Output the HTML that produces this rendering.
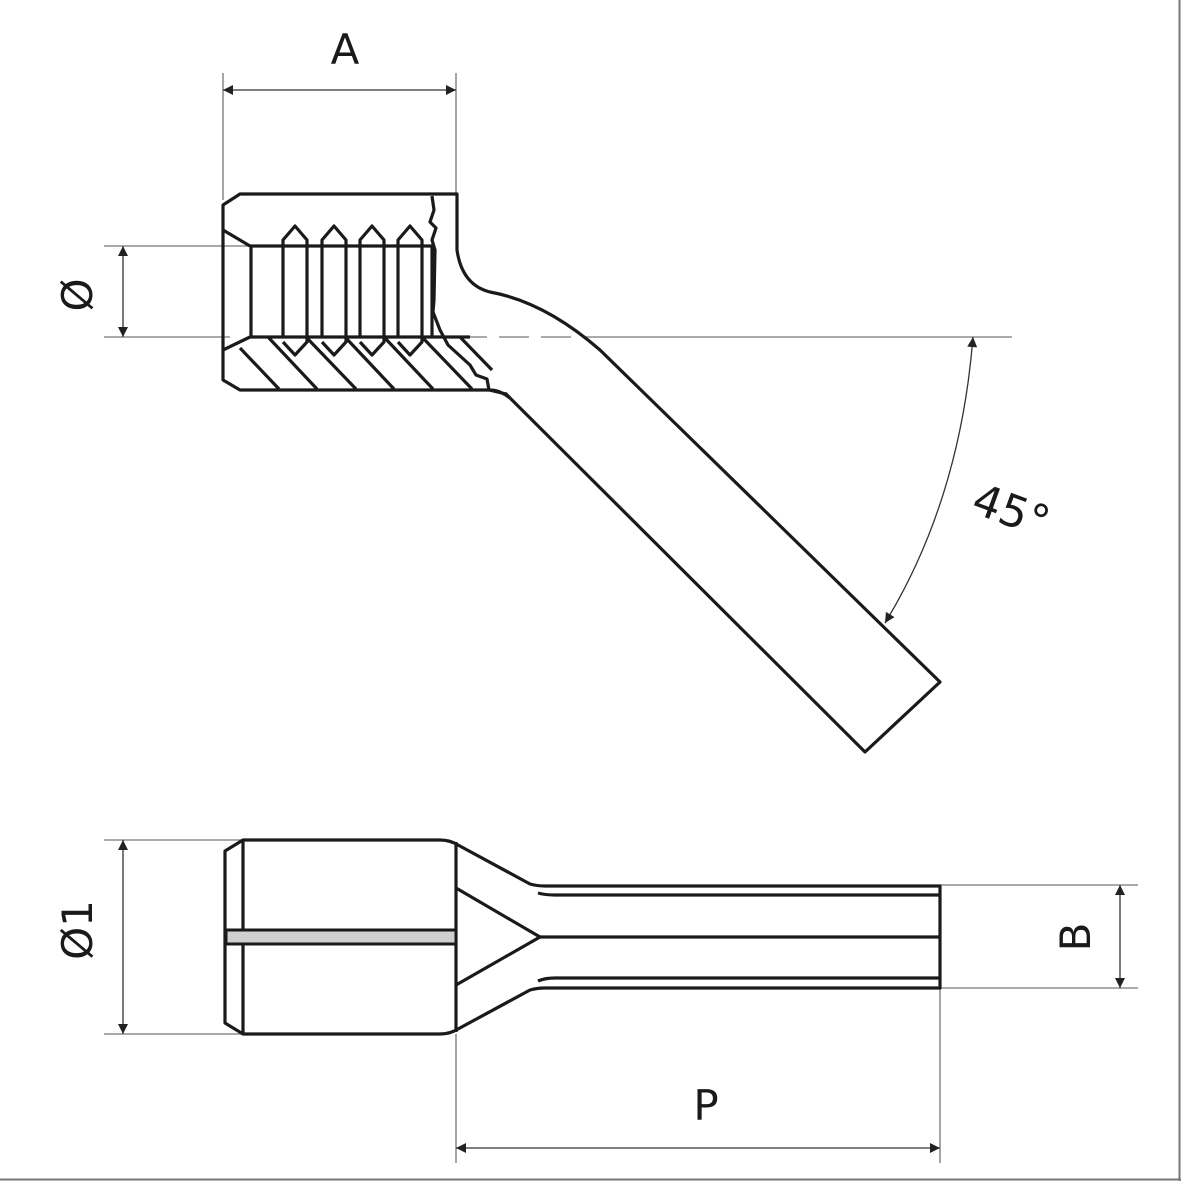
<!DOCTYPE html>
<html><head><style>html,body{margin:0;padding:0;background:#fff}svg{display:block}</style></head><body>
<svg width="1181" height="1181" viewBox="0 0 1181 1181" xmlns="http://www.w3.org/2000/svg">
<defs>
<marker id="ar" viewBox="0 0 10 10" refX="10" refY="5" markerWidth="18" markerHeight="10" markerUnits="userSpaceOnUse" orient="auto-start-reverse"><path d="M0,0 L10,5 L0,10 z" fill="#222"/></marker>
</defs>
<line x1="0" y1="1179.5" x2="1181" y2="1179.5" stroke="#777" stroke-width="2"/>
<line x1="1179.5" y1="0" x2="1179.5" y2="1181" stroke="#777" stroke-width="2"/>
<g stroke="#777" stroke-width="1.3" fill="none">
<line x1="223" y1="73" x2="223" y2="200"/><line x1="456" y1="73" x2="456" y2="196"/>
<line x1="223" y1="90" x2="456" y2="90" stroke="#333" marker-start="url(#ar)" marker-end="url(#ar)"/>
<line x1="104" y1="246" x2="252" y2="246"/><line x1="104" y1="337" x2="230" y2="337"/>
<line x1="123" y1="246" x2="123" y2="337" stroke="#333" marker-start="url(#ar)" marker-end="url(#ar)"/>
<line x1="457" y1="337" x2="600" y2="337" stroke-dasharray="30,12"/>
<line x1="600" y1="337" x2="1012" y2="337"/>
<path d="M973,337 Q960,500 885,623" stroke="#333" marker-start="url(#ar)" marker-end="url(#ar)"/>
<line x1="104" y1="840" x2="242" y2="840"/><line x1="104" y1="1034" x2="242" y2="1034"/>
<line x1="123" y1="840" x2="123" y2="1034" stroke="#333" marker-start="url(#ar)" marker-end="url(#ar)"/>
<line x1="940" y1="885" x2="1138" y2="885"/><line x1="940" y1="988" x2="1138" y2="988"/>
<line x1="1120" y1="885" x2="1120" y2="988" stroke="#333" marker-start="url(#ar)" marker-end="url(#ar)"/>
<line x1="456" y1="1034" x2="456" y2="1163"/><line x1="940" y1="988" x2="940" y2="1163"/>
<line x1="456" y1="1148" x2="940" y2="1148" stroke="#333" marker-start="url(#ar)" marker-end="url(#ar)"/>
</g>
<g stroke="#1a1a1a" stroke-width="3.2" fill="none" stroke-linejoin="round">
<path d="M433,194 L240,194 L223,205 L223,380 L240,390 L490,390 Q500,390 510,398"/>
<path d="M433,194 L457,194 L457,250 Q462,285 490,292 Q545,302 600,350 L940,682 L865,752 L505,393"/>
<path d="M432,196 L434,210 L430,222 L436,228 L432,240 L435,250 L434,300 L433,312 L440,330 L448,345 L470,365 L476,375 L487,379 L489,390 L506,394 L510,398"/>
<path d="M223,230 L250,246 M223,350 L250,337"/>
<line x1="250" y1="246" x2="434" y2="246"/><line x1="250" y1="337" x2="470" y2="337"/>
<line x1="251" y1="246" x2="251" y2="337"/>
<line x1="432" y1="246" x2="432" y2="337"/>
<path d="M283,337 L283,240 L295,226 L307,240 L307,342 L295,355 L283,342"/>
<path d="M322,337 L322,240 L334,226 L346,240 L346,342 L334,355 L322,342"/>
<path d="M360,337 L360,240 L372,226 L384,240 L384,342 L372,355 L360,342"/>
<path d="M398,337 L398,240 L410,226 L422,240 L422,342 L410,355 L398,342"/>
<path d="M240,348 L279,389 M268,337 L317,389 M306,337 L356,389 M345,337 L394,389 M384,337 L433,389 M422,337 L472,389 M460,337 L492,370"/>
<path d="M243,840 L440,840 Q450,840 458,845 L530,884 Q537,886 545,886 L940,886 L940,988 L545,988 Q537,988 530,990 L458,1029 Q450,1034 440,1034 L243,1034 L225,1023 L225,851 Z"/>
<line x1="243" y1="840" x2="243" y2="1034"/>
<line x1="456" y1="842" x2="456" y2="1032"/>
<path d="M940,895 L555,895 Q545,895 538,893 M940,978 L555,978 Q545,978 538,981"/>
<path d="M456,888 L540,937 L456,985"/>
<line x1="540" y1="937" x2="940" y2="937"/>
</g>
<rect x="226" y="930" width="230" height="14" fill="#cfcfcf" stroke="#1a1a1a" stroke-width="3"/>
<g font-family="'DejaVu Sans','Liberation Sans',sans-serif" fill="#1a1a1a" font-size="42">
<text x="345" y="64" text-anchor="middle">A</text>
<text transform="translate(92,295) rotate(-90)" text-anchor="middle">Ø</text>
<text transform="translate(92,930) rotate(-90)" text-anchor="middle">Ø1</text>
<text transform="translate(1090,937) rotate(-90)" text-anchor="middle">B</text>
<text x="706" y="1120" text-anchor="middle">P</text>
<text transform="translate(1006,525) rotate(20)" text-anchor="middle" font-size="44">45°</text>
</g>
</svg>
</body></html>
